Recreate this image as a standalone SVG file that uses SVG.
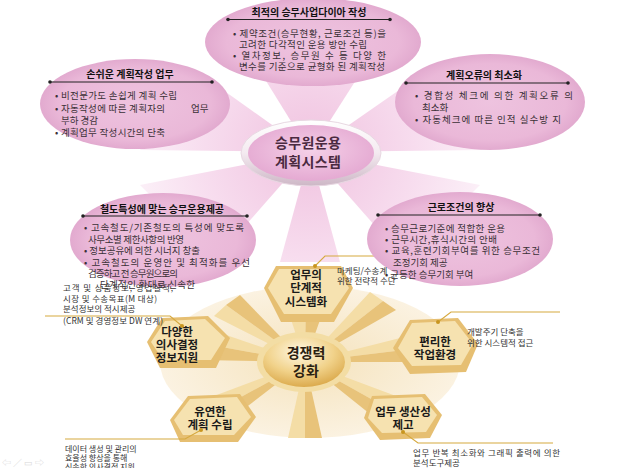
<svg xmlns="http://www.w3.org/2000/svg" width="620" height="468" viewBox="0 0 620 468">
<defs>
<radialGradient id="pinkRay" gradientUnits="userSpaceOnUse" cx="310" cy="152" r="230">
<stop offset="0" stop-color="#F0C2DF"/>
<stop offset="0.45" stop-color="#F7DCEE"/>
<stop offset="1" stop-color="#FFFFFF"/>
</radialGradient>
<radialGradient id="pinkEll" cx="0.5" cy="0.5" r="0.5">
<stop offset="0" stop-color="#EEC3DF"/>
<stop offset="0.8" stop-color="#EAB8D8"/>
<stop offset="1" stop-color="#E2AACF"/>
</radialGradient>
<radialGradient id="centerPink" cx="0.5" cy="0.45" r="0.6">
<stop offset="0" stop-color="#F5D0E8"/>
<stop offset="1" stop-color="#E3A6D0"/>
</radialGradient>
<linearGradient id="ring" x1="0" y1="0" x2="0" y2="1">
<stop offset="0" stop-color="#FFFFFF"/>
<stop offset="0.5" stop-color="#F4EAF0"/>
<stop offset="1" stop-color="#CDB7C6"/>
</linearGradient>
<radialGradient id="disc" cx="0.5" cy="0.5" r="0.5">
<stop offset="0" stop-color="#F5E3BD"/>
<stop offset="1" stop-color="#FBF2E1"/>
</radialGradient>
<radialGradient id="gold" cx="0.45" cy="0.3" r="0.75">
<stop offset="0" stop-color="#FFF8E4"/>
<stop offset="0.55" stop-color="#F1D28A"/>
<stop offset="1" stop-color="#D8A443"/>
</radialGradient>
</defs>
<style>
text { font-family: "Noto Sans CJK KR", "Noto Sans", sans-serif; }
.ti { font-size: 10px; font-weight: 700; fill: #111; text-anchor: middle; }
.bu { font-size: 9.5px; fill: #3a3036; }
.ctr { font-size: 14px; font-weight: 700; fill: #4a2a40; text-anchor: middle; }
.hx { font-size: 11.5px; font-weight: 700; fill: #1a1a1a; text-anchor: middle; }
.gd { font-size: 14px; font-weight: 700; fill: #2a2010; text-anchor: middle; }
.co { font-size: 8.5px; fill: #333; }
.cs { font-size: 8px; fill: #333; }
.ul { stroke: #222; stroke-width: 1.2; }
.ud { fill: #222; }
.lt { fill: #F4DDA6; }
.dk { fill: #E8C37A; }
.hxo { fill: #E6BF72; }
.hxi { fill: #F6E2B0; }
.cl { fill: none; stroke: #D6A93F; stroke-width: 1.1; }
.cd { fill: #C8951F; }
</style>

<!-- pink rays -->
<g id="pink-rays" fill="url(#pinkRay)">
<polygon points="310,152 250,55 372,55"/>
<polygon points="310,152 195,70 140,150"/>
<polygon points="310,152 428,70 482,150"/>
<polygon points="310,152 140,185 215,260"/>
<polygon points="310,152 480,185 405,260"/>
<polygon points="310,152 280,262 340,262"/>
</g>

<!-- bottom starburst -->
<g id="gold-burst">
<ellipse cx="310" cy="362" rx="150" ry="76" fill="url(#disc)"/>
<polygon class="lt" points="305,362 282,292 306,292"/>
<polygon class="dk" points="305,362 306,292 330,292"/>
<polygon class="lt" points="305,362 214,316 226,305"/>
<polygon class="dk" points="305,362 226,305 240,295"/>
<polygon class="lt" points="305,362 200,326 200,343"/>
<polygon class="dk" points="305,362 200,343 200,360"/>
<polygon class="lt" points="305,362 198,402 210,414"/>
<polygon class="dk" points="305,362 210,414 222,426"/>
<polygon class="lt" points="305,362 288,438 305,438"/>
<polygon class="dk" points="305,362 305,438 322,438"/>
<polygon class="lt" points="305,362 412,402 398,414"/>
<polygon class="dk" points="305,362 398,414 385,426"/>
<polygon class="lt" points="305,362 420,333 420,348"/>
<polygon class="dk" points="305,362 420,348 420,362"/>
<polygon class="lt" points="305,362 370,292 383,301"/>
<polygon class="dk" points="305,362 383,301 396,310"/>
</g>

<g id="node-gold-center">
<ellipse cx="304" cy="362" rx="47" ry="30" fill="#F3DDA4"/>
<ellipse cx="304" cy="362" rx="41" ry="25" fill="url(#gold)"/>
<text class="gd" x="306" y="358">경쟁력</text>
<text class="gd" x="306" y="376">강화</text>
</g>

<g id="node-systemize">
<polygon class="hxo" points="276,266 341,266 353,288 334,322 281,322 264,288"/>
<polygon class="hxi" points="279,269 338,269 349,288 331,314 284,314 268,288"/>
<text class="hx" x="306" y="279">업무의</text>
<text class="hx" x="306" y="292">단계적</text>
<text class="hx" x="306" y="306">시스템화</text>
</g>

<g id="node-decision">
<polygon class="hxo" points="162,318 208,316 230,338 216,368 160,368 147,342"/>
<polygon class="hxi" points="165,321 205,319 225,338 211,360 163,360 151,342"/>
<text class="hx" x="177" y="336">다양한</text>
<text class="hx" x="177" y="349">의사결정</text>
<text class="hx" x="177" y="362">정보지원</text>
</g>

<g id="node-workenv">
<polygon class="hxo" points="410,320 458,318 478,344 466,372 410,374 393,348"/>
<polygon class="hxi" points="412,323 455,321 473,344 461,365 412,366 398,348"/>
<text class="hx" x="435" y="346">편리한</text>
<text class="hx" x="435" y="359">작업환경</text>
</g>

<g id="node-flexible">
<polygon class="hxo" points="188,396 240,394 256,417 238,442 180,442 170,420"/>
<polygon class="hxi" points="190,399 237,397 251,417 234,435 183,435 174,420"/>
<text class="hx" x="210" y="416">유연한</text>
<text class="hx" x="210" y="429">계획 수립</text>
</g>

<g id="node-productivity">
<polygon class="hxo" points="372,396 425,394 442,415 430,438 380,440 364,418"/>
<polygon class="hxi" points="374,399 422,397 437,415 426,432 382,433 368,418"/>
<text class="hx" x="403" y="416">업무 생산성</text>
<text class="hx" x="403" y="429">제고</text>
</g>

<!-- callout connectors -->
<g id="connectors">
<polyline class="cl" points="315,266 325,256 385,256"/>
<polyline class="cl" points="182,326 170,316 45,316"/>
<polyline class="cl" points="438,322 451,312 560,312"/>
<polyline class="cl" points="201,430 185,439 65,439"/>
<polyline class="cl" points="403,432 418,443 553,443"/>
<circle class="cd" cx="315" cy="266" r="2"/>
<circle class="cd" cx="182" cy="326" r="2"/>
<circle class="cd" cx="438" cy="322" r="2"/>
<circle class="cd" cx="201" cy="430" r="2"/>
<circle class="cd" cx="403" cy="432" r="2"/>
</g>

<!-- pink ellipses -->
<g id="node-top">
<ellipse cx="313" cy="42" rx="108" ry="44" fill="url(#pinkEll)"/>
<line class="ul" x1="228" y1="19.5" x2="390" y2="19.5"/>
<circle class="ud" cx="228" cy="19.5" r="1.8"/><circle class="ud" cx="390" cy="19.5" r="1.8"/>
<text class="ti" x="309" y="16">최적의 승무사업다이아 작성</text>
<text class="bu" x="233" y="37" textLength="153">• 제약조건(승무현황, 근로조건 등)을</text>
<text class="bu" x="239" y="48" textLength="128">고려한 다각적인 운용 방안 수립</text>
<text class="bu" x="233" y="59" textLength="153">• 열차정보, 승무원 수 등 다양 한</text>
<text class="bu" x="239" y="70" textLength="146">변수를 기준으로 균형화 된 계획작성</text>
</g>

<g id="node-left">
<ellipse cx="135" cy="104" rx="95" ry="45" fill="url(#pinkEll)"/>
<line class="ul" x1="50" y1="82" x2="212" y2="82"/>
<circle class="ud" cx="50" cy="82" r="1.8"/><circle class="ud" cx="212" cy="82" r="1.8"/>
<text class="ti" x="130" y="78">손쉬운 계획작성 업무</text>
<text class="bu" x="55" y="99" textLength="122">• 비전문가도 손쉽게 계획 수립</text>
<text class="bu" x="55" y="112" textLength="110">• 자동작성에 따른 계획자의</text>
<text class="bu" x="191" y="112">업무</text>
<text class="bu" x="61" y="124">부하 경감</text>
<text class="bu" x="55" y="136" textLength="110">• 계획업무 작성시간의 단축</text>
</g>

<g id="node-right">
<ellipse cx="490" cy="102" rx="95" ry="48" fill="url(#pinkEll)"/>
<line class="ul" x1="406" y1="83" x2="568" y2="83"/>
<circle class="ud" cx="406" cy="83" r="1.8"/><circle class="ud" cx="568" cy="83" r="1.8"/>
<text class="ti" x="484" y="79">계획오류의 최소화</text>
<text class="bu" x="415" y="99" textLength="158">• 경합성 체크에 의한 계획오류 의</text>
<text class="bu" x="422" y="111">최소화</text>
<text class="bu" x="415" y="123" textLength="146">• 자동체크에 따른 인적 실수방 지</text>
</g>

<g id="node-bottom-left">
<ellipse cx="163" cy="240" rx="93" ry="47" fill="url(#pinkEll)"/>
<line class="ul" x1="83" y1="216" x2="247" y2="216"/>
<circle class="ud" cx="83" cy="216" r="1.8"/><circle class="ud" cx="247" cy="216" r="1.8"/>
<text class="ti" x="162" y="213">철도특성에 맞는 승무운용제공</text>
<text class="bu" x="84" y="231" textLength="160">• 고속철도/기존철도의 특성에 맞도록</text>
<text class="bu" x="88" y="243" textLength="96">사무소별 제한사항의 반영</text>
<text class="bu" x="84" y="254" textLength="116">• 정보공유에 의한 시너지 창출</text>
<text class="bu" x="84" y="266" textLength="166">• 고속철도의 운영안 및 최적화를 우선</text>
<text class="bu" x="88" y="277" textLength="90">검증하고 전 승무원으로의</text>
<text class="bu" x="100" y="288" textLength="95">단계적인 확대로 신속한</text>
</g>

<g id="node-bottom-right">
<ellipse cx="460" cy="239" rx="93" ry="47" fill="url(#pinkEll)"/>
<line class="ul" x1="378" y1="215" x2="540" y2="215"/>
<circle class="ud" cx="378" cy="215" r="1.8"/><circle class="ud" cx="540" cy="215" r="1.8"/>
<text class="ti" x="461" y="211">근로조건의 향상</text>
<text class="bu" x="385" y="232" textLength="120">• 승무근로기준에 적합한 운용</text>
<text class="bu" x="385" y="243" textLength="112">• 근무시간,휴식시간의 안배</text>
<text class="bu" x="385" y="254" textLength="155">• 교육,훈련기회부여를 위한 승무조건</text>
<text class="bu" x="393" y="266">조정기회 제공</text>
<text class="bu" x="385" y="278">• 균등한 승무기회 부여</text>
</g>

<g id="node-pink-center">
<ellipse cx="311" cy="153" rx="70" ry="33" fill="url(#ring)" stroke="#E8D8E2" stroke-width="1"/>
<ellipse cx="311" cy="153" rx="63" ry="28" fill="url(#centerPink)"/>
<text class="ctr" x="308" y="148" textLength="66">승무원운용</text>
<text class="ctr" x="308" y="167" textLength="66">계획시스템</text>
</g>

<!-- callout texts -->
<g id="callout-texts">
<text class="co" x="337" y="274">마케팅/수송계</text>
<text class="co" x="337" y="284">위한 전략적 수단</text>
<text class="co" x="63" y="291" textLength="110">고객 및 상품정보, 영업실적,</text>
<text class="co" x="63" y="302" textLength="94">시장 및 수송목표(M 대상)</text>
<text class="co" x="63" y="312">분석정보의 적시제공</text>
<text class="co" x="63" y="324" textLength="100">(CRM 및 경영정보 DW 연계)</text>
<text class="co" x="467" y="335">개발주기 단축을</text>
<text class="co" x="467" y="346">위한 시스템적 접근</text>
<text class="cs" x="65" y="452">데이터 생성 및 관리의</text>
<text class="cs" x="65" y="461">효율성 향상을 통해</text>
<text class="cs" x="65" y="470">신속한 의사결정 지원</text>
<text class="co" x="413" y="456" textLength="147">업무 반복 최소화와 그래픽 출력에 의한</text>
<text class="co" x="413" y="466">분석도구제공</text>
</g>

<g id="nav" fill="#D8D8D8" font-size="9">
<text x="2" y="466">⇦  ∕  ▭  ⇨</text>
</g>
</svg>
